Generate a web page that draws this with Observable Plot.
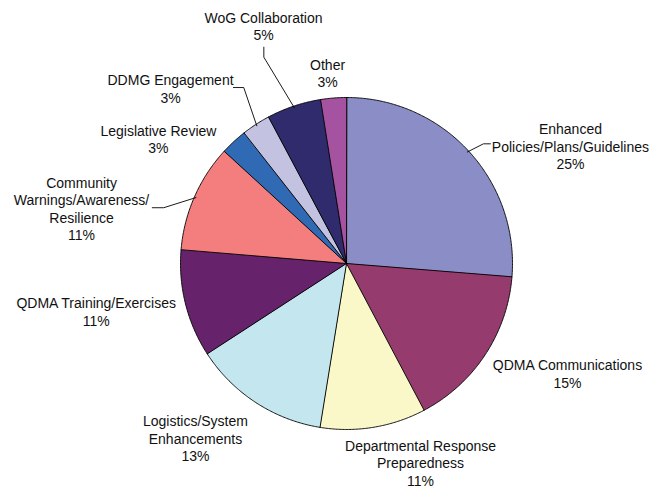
<!DOCTYPE html>
<html>
<head>
<meta charset="utf-8">
<script src="https://cdn.jsdelivr.net/npm/d3@7"></script>
<script src="https://cdn.jsdelivr.net/npm/@observablehq/plot@0.6"></script>
<style>
  html, body { margin: 0; padding: 0; background: #ffffff; }
  #chart svg { display: block; overflow: visible; }
</style>
</head>
<body>
<div id="chart"></div>
<script>
// ---- data ----
const categories = [
  "Enhanced Policies/Plans/Guidelines",
  "QDMA Communications",
  "Departmental Response Preparedness",
  "Logistics/System Enhancements",
  "QDMA Training/Exercises",
  "Community Warnings/Awareness/Resilience",
  "Legislative Review",
  "DDMG Engagement",
  "WoG Collaboration",
  "Other"
];
const values = [26.3, 16.0, 10.3, 13.3, 10.5, 10.5, 2.6, 2.8, 5.3, 2.5];
const percentLabels = ["25%", "15%", "11%", "13%", "11%", "11%", "3%", "3%", "5%", "3%"];
const labelLines = [
  "Enhanced\nPolicies/Plans/Guidelines",
  "QDMA Communications",
  "Departmental Response\nPreparedness",
  "Logistics/System\nEnhancements",
  "QDMA Training/Exercises",
  "Community\nWarnings/Awareness/\nResilience",
  "Legislative Review",
  "DDMG Engagement",
  "WoG Collaboration",
  "Other"
];

// ---- style / layout ----
const colors = ["#8b8ec6", "#953b6d", "#faf7c8", "#c4e7ef", "#66236b",
                "#f47e7e", "#306ab4", "#c4c2e1", "#302b6c", "#a552a0"];
// label block centres, in pie-radius units (x right, y up)
const labelPos = [
  [1.349, 0.708], [1.331, -0.661], [0.446, -1.200], [-0.910, -1.052], [-1.508, -0.288],
  [-1.596, 0.331], [-1.133, 0.751], [-1.060, 1.054], [-0.500, 1.431], [-0.114, 1.149]
];
// leader lines: slice index -> [elbow, end] in pie-radius units
const leaders = {
  0: [[0.825, 0.721], [0.867, 0.721]],
  5: [[-1.101, 0.336], [-1.170, 0.336]],
  7: [[-0.619, 1.060], [-0.681, 1.060]],
  8: [[-0.498, 1.243], [-0.498, 1.303]]
};

// ---- build geometry ----
const arcs = d3.pie().sort(null).value(d => d)(values);
const slicePts = [];
arcs.forEach((a, i) => {
  const name = categories[i];
  slicePts.push({name, x: 0, y: 0});
  const n = Math.max(4, Math.ceil((a.endAngle - a.startAngle) / (Math.PI / 360)));
  for (let k = 0; k <= n; k++) {
    const t = a.startAngle + (a.endAngle - a.startAngle) * k / n;
    slicePts.push({name, x: Math.sin(t), y: Math.cos(t)});
  }
});

const labels = categories.map((c, i) => ({
  x: labelPos[i][0], y: labelPos[i][1],
  text: labelLines[i] + "\n" + percentLabels[i]
}));

const leaderPts = [];
Object.entries(leaders).forEach(([i, pts]) => {
  const a = arcs[+i];
  const mid = (a.startAngle + a.endAngle) / 2;
  leaderPts.push({id: i, x: Math.sin(mid) * 0.99, y: Math.cos(mid) * 0.99});
  pts.forEach(p => leaderPts.push({id: i, x: p[0], y: p[1]}));
});

const cx = 346, cy = 263, R = 166, W = 656, H = 490;

const chart = Plot.plot({
  width: W,
  height: H,
  marginLeft: cx - R,
  marginRight: W - (cx + R),
  marginTop: cy - R,
  marginBottom: H - (cy + R),
  x: {domain: [-1, 1], axis: null},
  y: {domain: [-1, 1], axis: null},
  color: {domain: categories, range: colors},
  style: {background: "#ffffff", fontFamily: "'Liberation Sans', Arial, sans-serif"},
  marks: [
    Plot.line(slicePts, {
      x: "x", y: "y", z: "name", fill: "name",
      stroke: "#000000", strokeWidth: 0.9, strokeLinejoin: "round",
      curve: "linear-closed"
    }),
    Plot.line(leaderPts, {x: "x", y: "y", z: "id", stroke: "#000000", strokeWidth: 0.9}),
    Plot.text(labels, {
      x: "x", y: "y", text: "text",
      textAnchor: "middle", lineAnchor: "middle", lineHeight: 1.25,
      fontSize: 14, fill: "#111111"
    })
  ]
});

document.getElementById("chart").appendChild(chart);
</script>
</body>
</html>
